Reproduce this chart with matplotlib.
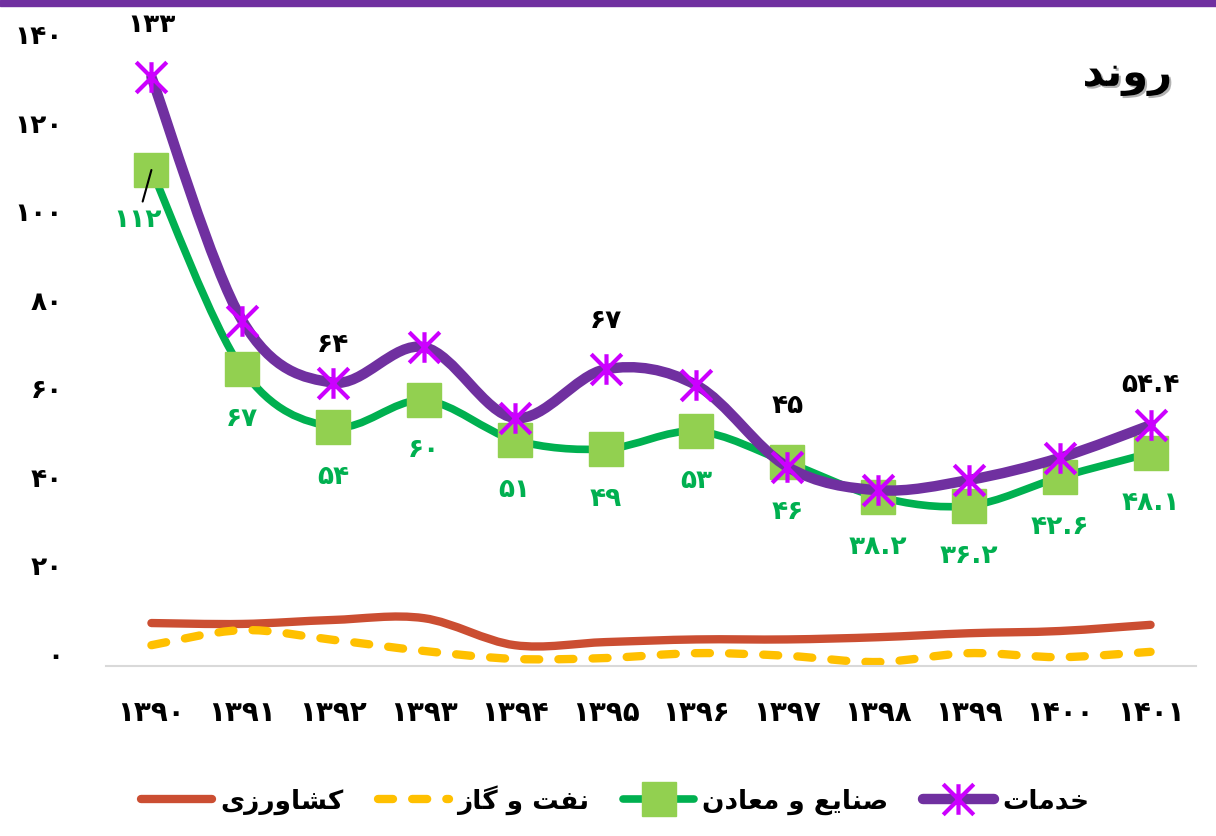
import numpy as np
import matplotlib
matplotlib.use('Agg')
import matplotlib.pyplot as plt
from matplotlib.path import Path
from matplotlib.patches import PathPatch, Rectangle
from matplotlib.lines import Line2D
import matplotlib.patheffects as pe
import matplotlib.transforms as mtransforms

# داده ها
years = [1390, 1391, 1392, 1393, 1394, 1395, 1396, 1397, 1398, 1399, 1400, 1401]
khadamat = [133, 78, 64, 72, 56, 67, 63.4, 45, 39.7, 42, 47, 54.4]
sanaye = [112, 67, 54, 60, 51, 49, 53, 46, 38.2, 36.2, 42.6, 48.1]
keshavarzi = [9.7, 9.5, 10.4, 10.8, 4.7, 5.4, 6.0, 6.0, 6.5, 7.4, 7.9, 9.3]
naft = [4.7, 8.1, 5.9, 3.4, 1.6, 1.8, 2.9, 2.3, 0.9, 2.9, 2.0, 3.2]
khadamat_labeled = [0, 2, 5, 7, 11]
yticks = [0, 20, 40, 60, 80, 100, 120, 140]
title = 'روند'
names = ['کشاورزی', 'نفت و گاز', 'صنایع و معادن', 'خدمات']

# فاصله برچسب های خدمات از نقطه (پیکسل)
khadamat_label_dy = [52, 38, 48, 61, 40]

# شکل دادن حروف فارسی (matplotlib اتصال حروف را انجام نمی دهد)
FORMS = {
    'ا': ('\uFE8D', '\uFE8E', None, None),
    'ت': ('\uFE95', '\uFE96', '\uFE97', '\uFE98'),
    'خ': ('\uFEA5', '\uFEA6', '\uFEA7', '\uFEA8'),
    'د': ('\uFEA9', '\uFEAA', None, None),
    'ر': ('\uFEAD', '\uFEAE', None, None),
    'ز': ('\uFEAF', '\uFEB0', None, None),
    'ش': ('\uFEB5', '\uFEB6', '\uFEB7', '\uFEB8'),
    'ص': ('\uFEB9', '\uFEBA', '\uFEBB', '\uFEBC'),
    'ع': ('\uFEC9', '\uFECA', '\uFECB', '\uFECC'),
    'ف': ('\uFED1', '\uFED2', '\uFED3', '\uFED4'),
    'م': ('\uFEE1', '\uFEE2', '\uFEE3', '\uFEE4'),
    'ن': ('\uFEE5', '\uFEE6', '\uFEE7', '\uFEE8'),
    'و': ('\uFEED', '\uFEEE', None, None),
    'ک': ('\uFB8E', '\uFB8F', '\uFB90', '\uFB91'),
    'گ': ('\uFB92', '\uFB93', '\uFB94', '\uFB95'),
    'ی': ('\uFBFC', '\uFBFD', '\uFBFE', '\uFBFF'),
}


def fa(word):
    out = []
    for i, ch in enumerate(word):
        if ch not in FORMS:
            out.append(ch)
            continue
        iso, fin, ini, med = FORMS[ch]
        prev = word[i - 1] if i > 0 else ''
        nxt = word[i + 1] if i + 1 < len(word) else ''
        jp = prev in FORMS and FORMS[prev][2] is not None
        jn = ini is not None and nxt in FORMS
        if jp and jn:
            out.append(med)
        elif jp:
            out.append(fin)
        elif jn:
            out.append(ini)
        else:
            out.append(iso)
    return ''.join(reversed(out))


def fnum(v):
    s = ('%g' % v)
    return s.translate(str.maketrans('0123456789', '۰۱۲۳۴۵۶۷۸۹'))


def smooth(xs, ys):
    pts = np.column_stack([xs, ys]).astype(float)
    n = len(pts)
    verts = [pts[0]]
    codes = [Path.MOVETO]
    for i in range(n - 1):
        p0 = pts[i - 1] if i > 0 else pts[i]
        p1, p2 = pts[i], pts[i + 1]
        p3 = pts[i + 2] if i + 2 < n else pts[i + 1]
        verts += [p1 + (p2 - p0) / 6, p2 - (p3 - p1) / 6, p2]
        codes += [Path.CURVE4] * 3
    return Path(verts, codes)


star = Path([(0, -1), (0, 1), (-1, -1), (1, 1), (-1, 1), (1, -1)],
            [Path.MOVETO, Path.LINETO] * 3)

c_red = '#CB4E32'
c_yel = '#FFC000'
c_grn = '#00B050'
c_sq = '#92D050'
c_pur = '#7030A0'
c_mag = '#CC00FF'

plt.rcParams['font.family'] = ['DejaVu Sans']

fig = plt.figure(figsize=(12.16, 8.36), dpi=100)
ax = fig.add_axes([106 / 1216, 1 - 666 / 836, 1090 / 1216, 620 / 836])
x = np.arange(len(years))

ax.add_patch(PathPatch(smooth(x, keshavarzi), fill=False, edgecolor=c_red, lw=6,
                       capstyle='round', joinstyle='round', zorder=2))
ax.add_patch(PathPatch(smooth(x, naft), fill=False, edgecolor=c_yel, lw=6,
                       linestyle=(0, (1.8, 2.3)), capstyle='round', zorder=2))
ax.add_patch(PathPatch(smooth(x, sanaye), fill=False, edgecolor=c_grn, lw=5.5,
                       capstyle='round', joinstyle='round', zorder=3))
ax.plot(x, sanaye, ls='none', marker='s', ms=24, mfc=c_sq, mec=c_sq, zorder=4)
ax.add_patch(PathPatch(smooth(x, khadamat), fill=False, edgecolor=c_pur, lw=7.5,
                       capstyle='round', joinstyle='round', zorder=5))
ax.plot(x, khadamat, ls='none', marker=star, ms=22, mec=c_mag, mew=3, zorder=6)

# برچسب داده ها
for i, dy in zip(khadamat_labeled, khadamat_label_dy):
    ax.annotate(fnum(khadamat[i]), (x[i], khadamat[i]), xytext=(0, dy * 0.72),
                textcoords='offset points', ha='center', va='center',
                fontsize=19, fontweight='bold', color='black', annotation_clip=False)
for i, v in enumerate(sanaye):
    if i == 0:
        ax.annotate(fnum(v), (x[i], v), xytext=(-10, -36), textcoords='offset points',
                    ha='center', va='center', fontsize=19, fontweight='bold', color=c_grn,
                    arrowprops=dict(arrowstyle='-', color='black', lw=1.5, shrinkA=2, shrinkB=0),
                    zorder=7)
    else:
        ax.annotate(fnum(v), (x[i], v), xytext=(0, -36), textcoords='offset points',
                    ha='center', va='center', fontsize=19, fontweight='bold', color=c_grn)

ax.set_xlim(-0.5, len(years) - 0.5)
ax.set_ylim(0, 140)
ax.set_yticks(yticks)
ax.set_yticklabels([fnum(t) for t in yticks])
ax.set_xticks(x)
ax.set_xticklabels([fnum(y) for y in years])
ax.tick_params(axis='both', length=0, labelsize=19)
ax.tick_params(axis='x', labelsize=20, pad=24)
ax.tick_params(axis='y', pad=31)
up = mtransforms.ScaledTranslation(0, 12 / 100, fig.dpi_scale_trans)
for lab in ax.get_yticklabels():
    lab.set_fontweight('bold')
    lab.set_transform(lab.get_transform() + up)
for lab in ax.get_xticklabels():
    lab.set_fontweight('bold')
for s in ['top', 'right', 'left']:
    ax.spines[s].set_visible(False)
ax.spines['bottom'].set_color('#D9D9D9')
ax.spines['bottom'].set_linewidth(1.5)

# عنوان
fig.text(1172 / 1216, 1 - 75 / 836, fa(title), ha='right', va='center', fontsize=30,
         fontweight='bold',
         path_effects=[pe.SimplePatchShadow(offset=(1.5, -1.5), alpha=0.3), pe.Normal()])

# نوار بالا
fig.add_artist(Rectangle((0, 1 - 6 / 836), 1, 6 / 836, transform=fig.transFigure,
                         color=c_pur, zorder=10))

handles = [
    Line2D([], [], color=c_red, lw=6, solid_capstyle='round'),
    Line2D([], [], color=c_yel, lw=6, ls=(0, (1.8, 2.3)), dash_capstyle='round'),
    Line2D([], [], color=c_grn, lw=5.5, marker='s', ms=24, mfc=c_sq, mec=c_sq, solid_capstyle='round'),
    Line2D([], [], color=c_pur, lw=7.5, marker=star, ms=22, mec=c_mag, mew=3, solid_capstyle='round'),
]
fig.legend(handles, [fa(n) for n in names], loc='center', bbox_to_anchor=(615 / 1216, 1 - 800 / 836),
           ncol=4, frameon=False, handlelength=2.7, columnspacing=1.3, handletextpad=0.3,
           prop=dict(size=19, weight='bold'))

fig.savefig('out.png', dpi=100)
